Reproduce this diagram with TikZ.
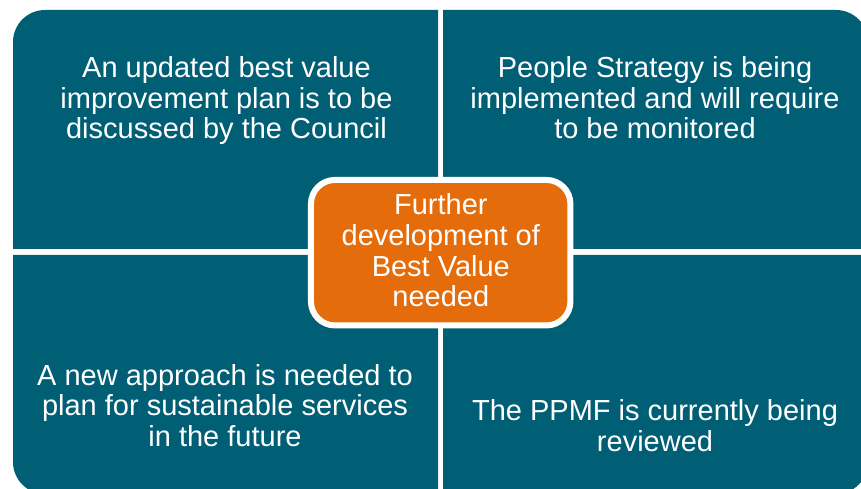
\documentclass[tikz,border=0pt]{standalone}
\usepackage{fontspec}
\setmainfont{Liberation Sans}
\definecolor{quadteal}{RGB}{0,94,117}
\definecolor{coreorange}{RGB}{228,108,10}
\begin{document}
\begin{tikzpicture}[x=1pt,y=1pt,
  quad/.style={fill=quadteal},
  qtext/.style={text=white,align=center,inner sep=0pt,anchor=base,
    font=\fontsize{29}{30.8}\selectfont},
  corebox/.style={fill=coreorange,draw=white,line width=6pt,rounded corners=24pt,
    minimum width=259.5pt,minimum height=145.5pt,inner sep=0pt}]
\useasboundingbox (0,0) rectangle (861,489);
\clip (0,0) rectangle (861,489);
% quadrants
\fill[quad] (438,240) -- (13,240) -- (13,447) arc[start angle=180,end angle=90,radius=32pt] -- (438,479) -- cycle;
\fill[quad] (443,240) -- (443,479) -- (836,479) arc[start angle=90,end angle=0,radius=32pt] -- (868,240) -- cycle;
\fill[quad] (438,234) -- (13,234) -- (13,27) arc[start angle=180,end angle=270,radius=32pt] -- (438,-5) -- cycle;
\fill[quad] (443,234) -- (868,234) -- (868,27) arc[start angle=0,end angle=-90,radius=32pt] -- (443,-5) -- cycle;
% texts (base anchor = baseline of the last line)
\node[qtext] (tl) at (226.5,350.1) {An updated best value\\improvement plan is to be\\discussed by the Council};
\node[qtext] (tr) at (655,350.1) {People Strategy is being\\implemented and will require\\to be monitored};
\node[qtext] (bl) at (225,42.3) {A new approach is needed to\\plan for sustainable services\\in the future};
\node[qtext] (br) at (655,37.3) {The PPMF is currently being\\reviewed};
% centre
\node[corebox] (core) at (440.7,236.3) {};
\node[qtext,font=\fontsize{29}{30.6}\selectfont] (corelabel) at (440.8,182.3) {Further\\development of\\Best Value\\needed};
\end{tikzpicture}
\end{document}
